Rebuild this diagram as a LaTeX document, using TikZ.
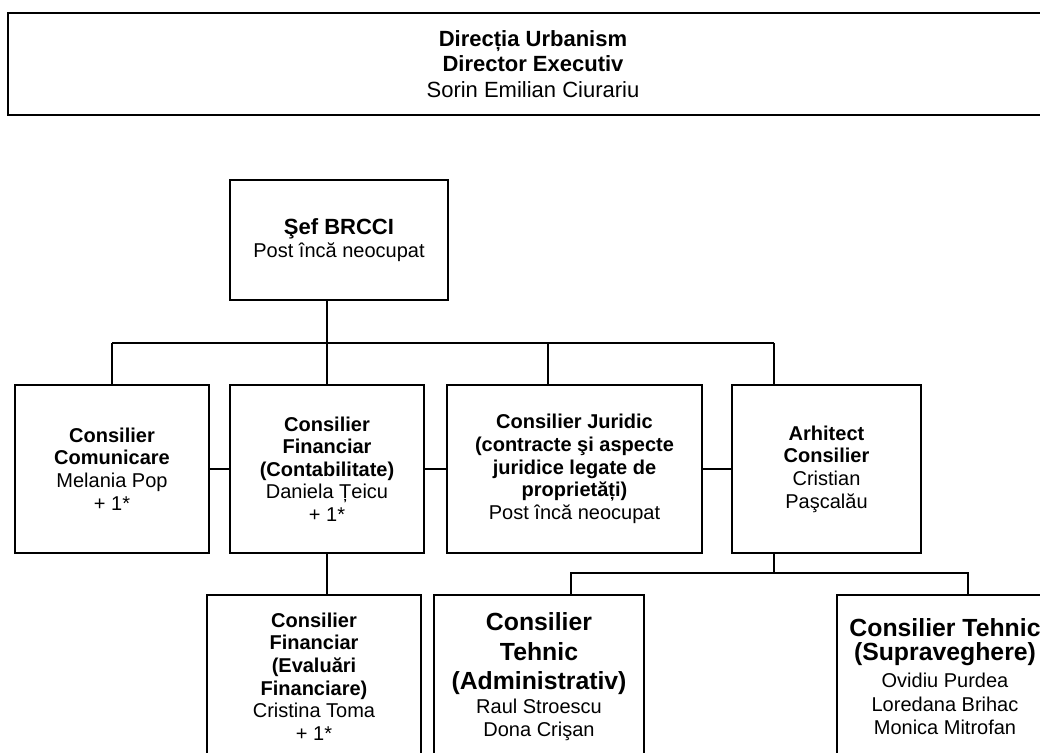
\documentclass[tikz,border=0pt]{standalone}
\usepackage{fontspec}
\setmainfont{Liberation Sans}
\usepackage{tikz}
\usetikzlibrary{positioning}

\newcommand{\tehfont}{\fontsize{12.4}{14.5}\selectfont\bfseries}

\begin{document}
\begin{tikzpicture}[
    x=0.5pt, y=-0.5pt,
    node distance=10.5pt,
    box/.style={rectangle, draw, line width=1.3pt, inner sep=0pt, outer sep=0pt, align=center, font=\fontsize{10}{11.3}\selectfont},
    upper/.style={box, minimum height=84pt},
    lower/.style={box, minimum height=81.5pt},
    link/.style={line width=1.3pt}
]
\useasboundingbox (0,0) rectangle (1040,752);
\clip (0,0) rectangle (1040,752);

\node[box, minimum width=525pt, minimum height=51pt, font=\fontsize{11}{12.8}\selectfont] (dir) at (533,64) {{\bfseries Direcția Urbanism}\\{\bfseries Director Executiv}\\Sorin Emilian Ciurariu};
\node[box, minimum width=109pt, minimum height=60pt] (sef) at (339,240) {{\fontsize{11}{12}\selectfont\bfseries Şef BRCCI}\\Post încă neocupat};

\node[upper, minimum width=97pt] (comm) at (112,469) {{\bfseries Consilier}\\{\bfseries Comunicare}\\Melania Pop\\+ 1*};
\node[upper, minimum width=97pt, right=10.5pt of comm] (fin) {{\bfseries Consilier}\\{\bfseries Financiar}\\{\bfseries (Contabilitate)}\\Daniela Țeicu\\+ 1*};
\node[upper, minimum width=127.5pt, right=11.5pt of fin] (jur) {{\bfseries Consilier Juridic}\\{\bfseries (contracte şi aspecte}\\{\bfseries juridice legate de}\\{\bfseries proprietăți)}\\Post încă neocupat};
\node[upper, minimum width=94.5pt, right=15pt of jur] (arch) {{\bfseries Arhitect}\\{\bfseries Consilier}\\Cristian\\Paşcalău};

\node[lower, minimum width=107pt] (eval) at (314,676.5) {{\bfseries Consilier}\\{\bfseries Financiar}\\{\bfseries (Evaluări}\\{\bfseries Financiare)}\\Cristina Toma\\+ 1*};
\node[lower, minimum width=105pt] (adm) at (539,676.5) {{\tehfont Consilier}\\[3.5pt]{\tehfont Tehnic}\\[3.5pt]{\tehfont (Administrativ)}\\[0.5pt]Raul Stroescu\\Dona Crişan};
\node[lower, minimum width=108pt] (sup) at (945,676.5) {{\tehfont Consilier Tehnic}\\[0.5pt]{\tehfont (Supraveghere)}\\[2.5pt]Ovidiu Purdea\\[0.5pt]Loredana Brihac\\Monica Mitrofan};

% bus under the head of the bureau
\coordinate (busL) at (112,343);
\coordinate (busR) at (774,343);
\coordinate (jurDrop) at (548,343);
\draw[link] (sef.south -| fin.north) -- (fin.north);
\draw[link] (busL) -- (busR);
\draw[link] (busL) -- (comm.north);
\draw[link] (jurDrop) -- (jurDrop |- jur.north);
\draw[link] (busR) -- (busR |- arch.north);

\draw[link] (comm) -- (fin);
\draw[link] (fin) -- (jur);
\draw[link] (jur) -- (arch);

\draw[link] (fin.south) -- (fin.south |- eval.north);

% technical advisers
\coordinate (tehMid) at (774,573);
\coordinate (tehL) at (571,573);
\coordinate (tehR) at (968,573);
\draw[link] (arch.south -| tehMid) -- (tehMid);
\draw[link] (tehL |- adm.north) -- (tehL) -- (tehR) -- (tehR |- sup.north);

\end{tikzpicture}
\end{document}
